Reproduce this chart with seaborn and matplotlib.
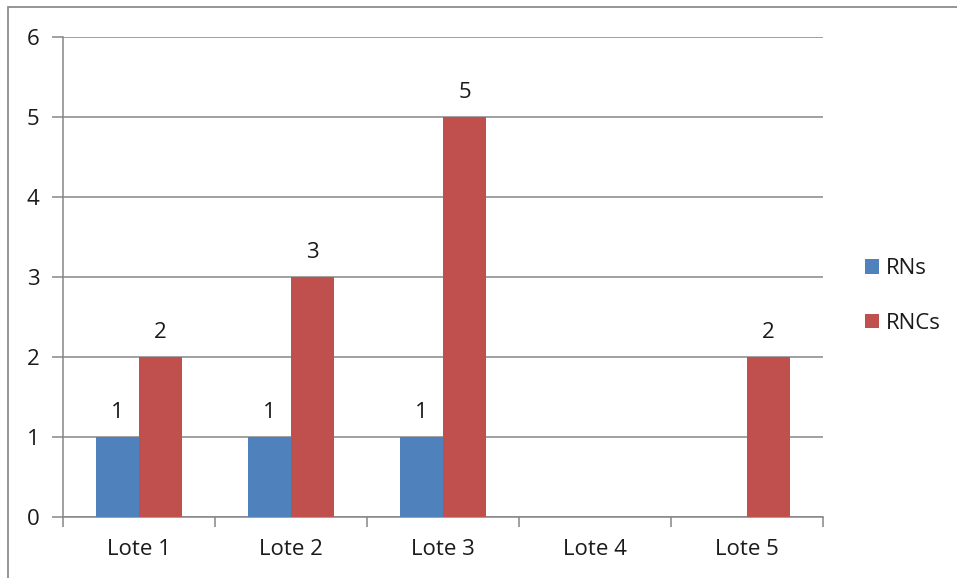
import matplotlib
matplotlib.use("Agg")
import matplotlib.pyplot as plt
import seaborn as sns
import pandas as pd
from matplotlib.patches import Rectangle

# Data
lotes = ["Lote 1", "Lote 2", "Lote 3", "Lote 4", "Lote 5"]
rns = [1, 1, 1, 0, 0]
rncs = [2, 3, 5, 0, 2]
series_names = ["RNs", "RNCs"]
colors = ["#4F81BD", "#C0504D"]
y_ticks = [0, 1, 2, 3, 4, 5, 6]

df = pd.DataFrame({
    "Lote": lotes * 2,
    "Serie": [series_names[0]] * len(lotes) + [series_names[1]] * len(lotes),
    "Valor": rns + rncs,
})

sns.set_theme(style="white")
plt.rcParams["font.family"] = ["Open Sans", "DejaVu Sans"]
FS = 16
TXT = "#1a1a1a"

fig = plt.figure(figsize=(9.57, 5.78), dpi=100)
ax = fig.add_axes([0.0658, 0.1055, 0.7942, 0.8305])

sns.barplot(data=df, x="Lote", y="Valor", hue="Serie", order=lotes,
            hue_order=series_names, palette=colors, width=0.566, gap=0,
            saturation=1, legend=True, ax=ax, zorder=3, linewidth=0,
            edgecolor="none")

# Value labels above non-zero bars
for container in ax.containers:
    vals = container.datavalues
    labels = [f"{v:g}" if v > 0 else "" for v in vals]
    ax.bar_label(container, labels=labels, padding=10, fontsize=FS, color=TXT)

ax.set_xlim(-0.5, len(lotes) - 0.5)
ax.set_ylim(0, 6)
ax.set_yticks(y_ticks)
ax.set_yticklabels([str(t) for t in y_ticks], fontsize=FS, color=TXT)
ax.set_xticks(range(len(lotes)))
ax.set_xticklabels(lotes, fontsize=FS, color=TXT)
ax.set_xlabel("")
ax.set_ylabel("")

ax.yaxis.grid(True, color="#868686", linewidth=1.1, zorder=0)
ax.set_axisbelow(True)
for side in ["top", "right"]:
    ax.spines[side].set_visible(False)
for side in ["left", "bottom"]:
    ax.spines[side].set_color("#868686")
    ax.spines[side].set_linewidth(1.1)

# Y ticks outward; x ticks at category boundaries
ax.tick_params(axis="y", length=8, width=1.1, color="#868686", pad=9, left=True)
ax.tick_params(axis="x", length=0, pad=16)
ax.set_xticks([i - 0.5 for i in range(len(lotes) + 1)], minor=True)
ax.tick_params(axis="x", which="minor", length=7, width=1.1,
               color="#868686", bottom=True)

# Legend
handles, labs = ax.get_legend_handles_labels()
ax.legend(handles, labs, loc="center left", frameon=False, fontsize=FS,
          handlelength=0.62, handleheight=0.62, handletextpad=0.3,
          labelspacing=1.5, borderaxespad=0, borderpad=0)
leg = ax.get_legend()
leg.set_bbox_to_anchor((865 / 957, 1 - 296 / 578), transform=fig.transFigure)
for t in leg.get_texts():
    t.set_color(TXT)

# Outer frame line
fig.patches.append(Rectangle((8 / 957, -0.1), 1.2, 1 - 7 / 578 + 0.1,
                             transform=fig.transFigure, fill=False,
                             edgecolor="#8c8c8c", linewidth=1.3))

fig.savefig("out.png", dpi=100)
